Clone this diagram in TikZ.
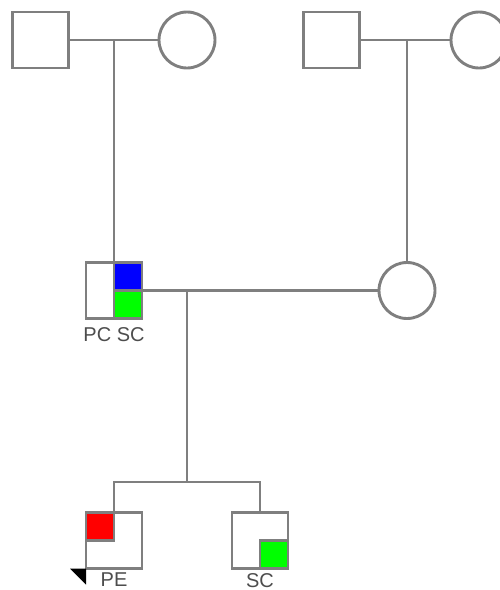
\documentclass[tikz,border=0pt]{standalone}
\usepackage{fontspec}
\setmainfont{Liberation Sans}
\usetikzlibrary{positioning}
\definecolor{pedgray}{HTML}{7F7F7F}
\definecolor{pedtext}{HTML}{4D4D4D}
\tikzset{
  pedline/.style={draw=pedgray, line width=2.9pt},
  male/.style={pedline, rectangle, minimum size=56pt, inner sep=0pt, outer sep=0pt, fill=white},
  female/.style={pedline, circle, minimum size=56pt, inner sep=0pt, outer sep=0pt, fill=white},
  tag/.style={font=\fontsize{20}{20}\selectfont, text=pedtext, inner sep=0.5pt}
}

\begin{document}
\begin{tikzpicture}[x=1pt, y=-1pt]
    \useasboundingbox (0,0) rectangle (500,590);
    % grandparents
    \node[male] (gfa) at (40.5,40) {};
    \node[female] (gma) at (187,40) {};
    \node[male] (gfb) at (331.5,40) {};
    \node[female] (gmb) at (479,40) {};
    % parents
    \node[male] (father) at (114,290.5) {};
    \node[female] (mother) at (407,290.5) {};
    % children
    \node[male] (kida) at (114,540.5) {};
    \node[male] (kidb) at (260,540.5) {};
    \coordinate (mida) at (114,40);
    \coordinate (midb) at (407,40);
    \coordinate (midc) at (187,290.5);
    \coordinate (sib) at (187,482);
    \draw[pedline] (gfa) -- (gma);
    \draw[pedline] (mida) -- (father);
    \draw[pedline] (gfb) -- (gmb);
    \draw[pedline] (midb) -- (mother);
    \draw[pedline] (father) -- (mother);
    \draw[pedline] (midc) -- (sib);
    \draw[pedline] (kida) |- (sib) -| (kidb);
    % affection quadrants
    \filldraw[pedline, fill=blue] (father.north) rectangle (father.east);
    \filldraw[pedline, fill=green] (father.east) rectangle (father.south);
    \filldraw[pedline, fill=red] (kida.north west) rectangle (kida.center);
    \filldraw[pedline, fill=green] (kidb.center) rectangle (kidb.south east);
    % proband
    \fill (kida.south west) -- ++(-16,0) -- ++(16,16) -- cycle;
    \node[tag, below=8pt of father] (fatherlbl) {PC SC};
    \node[tag, below=4pt of kida] (kidalbl) {PE};
    \node[tag, below=4pt of kidb] (kidblbl) {SC};
  \end{tikzpicture}
\end{document}
